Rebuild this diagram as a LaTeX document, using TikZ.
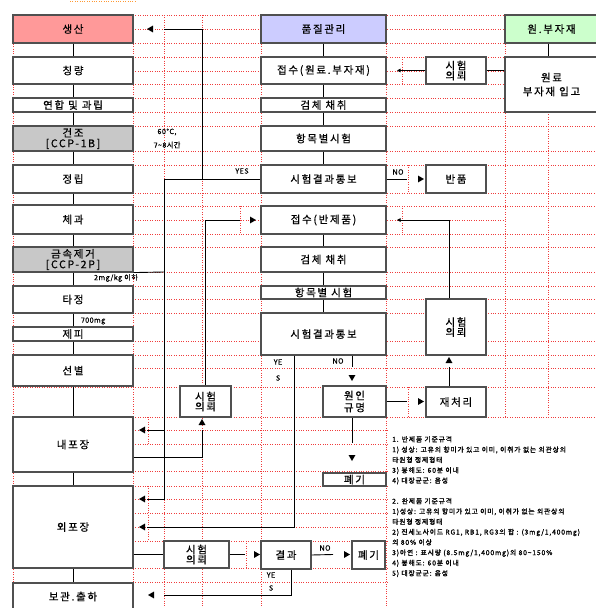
\documentclass[tikz,border=0pt]{standalone}
\usepackage{fontspec}
\setmainfont{Noto Sans CJK KR}[LetterSpace=16,FakeBold=0.5]
\newfontfamily\notefont{Noto Sans CJK KR}[LetterSpace=12,FakeBold=1.2]
\newfontfamily\smallfont{Noto Sans CJK KR}[LetterSpace=6,FakeBold=0.5]
\usetikzlibrary{shapes.geometric,arrows.meta}
\definecolor{prodred}{HTML}{FF9999}
\definecolor{qclav}{HTML}{CCCCFF}
\definecolor{rawgreen}{HTML}{CCFFCC}
\definecolor{ccpgray}{HTML}{C8C8C8}
\definecolor{edgegray}{HTML}{505050}
\definecolor{gridred}{HTML}{F03C3C}
\newcommand{\mybox}[7]{\node[box,#6,minimum width={(#4-#2)*1pt},minimum height={(#5-#3)*1pt}] (#1) at ({(#2+#4)/2},{(#3+#5)/2}) {#7};}
\begin{document}
\begin{tikzpicture}[x=1pt,y=-1pt,
 box/.style={draw=edgegray,line width=1.1pt,fill=white,inner sep=0pt,align=center,font=\fontsize{10.5}{12}\selectfont},
 conn/.style={draw=black,line width=0.9pt},
 tipL/.style={-{Triangle[length=3.5pt,width=3.5pt]}},
 arrtri/.style={regular polygon,regular polygon sides=3,fill=black,inner sep=0pt,minimum size=8pt},
 arrL/.style={arrtri,shape border rotate=90},
 arrR/.style={arrtri,shape border rotate=-90},
 arrU/.style={arrtri},
 arrD/.style={arrtri,shape border rotate=180},
 gridl/.style={draw=gridred,line width=0.6pt,dash pattern=on 1pt off 1.4pt},
 lab/.style={inner sep=0pt,font=\smallfont\fontsize{7.2}{8}\selectfont},
]
\useasboundingbox (0,0) rectangle (595,608);
\draw[draw=orange!80,line width=0.6pt,dash pattern=on 1pt off 1.4pt] (70,1) -- (137,1);

% ---------- spreadsheet grid ----------
\foreach \yy in {15,43,57,84,98,112,126,151,165,193,206,234,247,272,286,299,313,341,355,368,387,417,444,471,486,513,541,568,582}
  \draw[gridl] (13,\yy) -- (595,\yy);
\foreach \yy in {29,71,220,430,499,527}
  \draw[gridl] (133,\yy) -- (505,\yy);
\foreach \xx in {13,133,164,202,261,386}
  \draw[gridl] (\xx,15) -- (\xx,608);
\draw[gridl] (505,15) -- (505,417);
\draw[gridl] (548,112) -- (548,417);
\draw[gridl] (402,57) -- (402,84);
\draw[gridl] (402,206) -- (402,234);
\draw[gridl] (408,165) -- (408,193);
\draw[gridl] (408,387) -- (408,417);
\draw[gridl] (240,206) -- (240,234);
\draw[gridl] (148,417) -- (148,444);
\draw[gridl] (148,486) -- (148,541);
\draw[gridl] (246,541) -- (246,568);
\fill[white] (387.5,418.5) rectangle (600,612);

% ---------- production column ----------
\mybox{sangsan}{13}{15}{133}{43}{fill=prodred}{생산}
\mybox{chingryang}{13}{57}{133}{84}{}{칭량}
\mybox{yeonhap}{13}{98}{133}{112}{}{연합 및 과립}
\mybox{geonjo}{13}{126}{133}{151}{fill=ccpgray}{건조\\[-1.5pt][CCP-1B]}
\mybox{jeongrip}{13}{165}{133}{193}{}{정립}
\mybox{chegwa}{13}{205}{133}{234}{}{체과}
\mybox{geumsok}{13}{247}{133}{272}{fill=ccpgray}{금속제거\\[-1.5pt][CCP-2P]}
\mybox{tajeong}{13}{286}{133}{313}{}{타정}
\mybox{jepi}{13}{327}{133}{341}{}{제피}
\mybox{seonbyeol}{13}{355}{133}{386}{}{선별}
\mybox{naepojang}{13}{417}{133}{472}{}{내포장}
\mybox{oepojang}{13}{486}{133}{568}{}{외포장}
\mybox{bogwan}{13}{583}{133}{610}{}{보관.출하}

% ---------- quality column ----------
\mybox{pumjil}{261}{15}{386}{43}{fill=qclav}{품질관리}
\mybox{jeopsu1}{261}{57}{386}{84}{}{접수(원료.부자재)}
\mybox{geomche1}{261}{98}{386}{112}{}{검체 채취}
\mybox{hangmok1}{261}{126}{386}{151}{}{항목별시험}
\mybox{result1}{261}{165}{386}{193}{}{시험결과통보}
\mybox{jeopsu2}{261}{206}{386}{234}{}{접수(반제품)}
\mybox{geomche2}{261}{247}{386}{272}{}{검체 채취}
\mybox{hangmok2}{261}{286}{386}{299}{}{항목별 시험}
\mybox{result2}{261}{313}{386}{355}{}{시험결과통보}
\mybox{wonin}{323}{386}{386}{417}{}{원인\\규명}
\mybox{pegi1}{323}{473}{386}{486}{}{폐기}
\mybox{gyeolgwa}{261}{541}{311}{569}{}{결과}
\mybox{pegi2}{352}{541}{385}{569}{}{폐기}

% ---------- right side ----------
\mybox{siheom1}{426}{57}{486}{84}{}{시험\\[-2pt]의뢰}
\mybox{banpum}{426}{165}{486}{193}{}{반품}
\mybox{siheom2}{426}{299}{486}{355}{}{시험\\[-2pt]의뢰}
\mybox{jaecheori}{426}{387}{486}{417}{}{재처리}
\mybox{wonbu}{505}{15}{598}{43}{fill=rawgreen}{원.부자재}
\mybox{ipgo}{505}{57}{598}{112}{}{원료\\[2pt]부자재 입고}

% ---------- middle request boxes ----------
\mybox{siheom3}{180}{386}{231}{417}{}{시험\\[-2pt]의뢰}
\mybox{siheom4}{164}{541}{229}{568}{}{시험\\[-2pt]의뢰}

% ---------- straight flow connectors ----------
\draw[conn] (sangsan.south) -- (chingryang.north);
\draw[conn] (chingryang.south) -- (yeonhap.north);
\draw[conn] (yeonhap.south) -- (geonjo.north);
\draw[conn] (geonjo.south) -- (jeongrip.north);
\draw[conn] (jeongrip.south) -- (chegwa.north);
\draw[conn] (chegwa.south) -- (geumsok.north);
\draw[conn] (geumsok.south) -- (tajeong.north);
\draw[conn] (tajeong.south) -- (jepi.north);
\draw[conn] (jepi.south) -- (seonbyeol.north);
\draw[conn] (seonbyeol.south) -- (naepojang.north);
\draw[conn] (naepojang.south) -- (oepojang.north);
\draw[conn] (oepojang.south) -- (bogwan.north);

\draw[conn] (pumjil.south) -- (jeopsu1.north);
\draw[conn] (jeopsu1.south) -- (geomche1.north);
\draw[conn] (geomche1.south) -- (hangmok1.north);
\draw[conn] (hangmok1.south) -- (result1.north);
\draw[conn] (jeopsu2.south) -- (geomche2.north);
\draw[conn] (geomche2.south) -- (hangmok2.north);
\draw[conn] (hangmok2.south) -- (result2.north);

\coordinate (pw) at (548,0);
\draw[conn] (wonbu.south -| pw) -- (ipgo.north -| pw);
\draw[conn] (siheom1.east -| ipgo.west) -- (siheom1.east);
\coordinate (e9) at (397,70.5);
\draw[conn,tipL] (siheom1.west) -- (e9);

% ---------- YES network from first test result ----------
\coordinate (j1) at (202,179);
\coordinate (j2) at (164,179);
\coordinate (e1) at (164,29);
\coordinate (e3) at (147,499);
\coordinate (bj) at (164,430);
\coordinate (e4) at (147,430);
\draw[conn] (result1.west) -- (j2) |- (e3);
\draw[conn] (j1) |- (e1);
\draw[conn] (bj) -- (e4);
\node[arrL] (a1) at (151,29) {};
\node[arrL] (a2) at (143,430) {};
\node[arrL] (a3) at (143,499) {};
\node[lab] (yes1) at (242,171) {YES};

% metal removal line
\coordinate (j3) at (164,272);
\draw[conn] (geumsok.south east) -- (j3);

% request 3 network
\coordinate (e5) at (240,220);
\draw[conn] (siheom3.north) |- (e5);
\node[arrR] (a4) at (252,220) {};
\coordinate (k6) at (202,457);
\coordinate (e6) at (202,430);
\draw[conn] (naepojang.east |- k6) -- (k6) -- (e6);
\node[arrU] (a5) at (202,423) {};

% NO to return
\coordinate (r1) at (407,0);
\draw[conn] (result1.east) -- (result1.east -| r1);
\node[arrR] (a6) at (420,179) {};
\node[lab] (no1) at (398,172) {NO};

% request 2 -> receipt of semi-product
\coordinate (k2) at (449,220);
\coordinate (e8) at (397,220);
\draw[conn,tipL] (siheom2.north -| k2) -- (k2) -- (e8);
\coordinate (k1) at (449,367);
\draw[conn] (jaecheori.north -| k1) -- (k1);
\node[arrU] (a7) at (449,361) {};

% second test result
\coordinate (n1) at (352,367);
\draw[conn] (result2.south -| n1) -- (n1);
\node[arrD] (a8) at (352,377) {};
\node[lab] (no2) at (338,361) {NO};
\coordinate (n2) at (352,443);
\draw[conn] (wonin.south -| n2) -- (n2);
\node[arrD] (a9) at (352,457) {};
\draw[conn] (wonin.east) -- (wonin.east -| r1);
\node[arrR] (a10) at (420,401.5) {};
\coordinate (y1) at (294,527);
\coordinate (e7) at (147,527);
\draw[conn] (result2.south -| y1) -- (y1) -- (e7);
\node[arrL] (a11) at (143,527) {};
\node[lab] (yes2a) at (278,362) {YE};
\node[lab] (yes2b) at (278,378) {S};

% outer packaging test
\draw[conn] (siheom4.west -| oepojang.east) -- (siheom4.west);
\coordinate (e10) at (245,554.5);
\draw[conn] (siheom4.east) -- (e10);
\node[arrR] (a12) at (256,554.5) {};
\coordinate (e11) at (333,554.5);
\draw[conn] (gyeolgwa.east) -- (e11);
\node[arrR] (a13) at (346,554.5) {};
\node[lab] (no3) at (325,548) {NO};
\coordinate (y2) at (291,595);
\coordinate (e12) at (164,595);
\draw[conn] (gyeolgwa.south -| y2) -- (y2) -- (e12);
\node[arrL] (a14) at (152,595) {};
\node[lab] (yes3a) at (271,575) {YE};
\node[lab] (yes3b) at (271,588) {S};

% ---------- small labels ----------
\node[lab] (t60) at (167,132) {60°C,};
\node[lab] (t78) at (167,145) {7\textasciitilde8시간};
\node[lab] (t2mg) at (116,278) {2mg/kg 이하};
\node[lab] (t700) at (93,321) {700mg};

% ---------- notes ----------
\node[anchor=north west,align=left,inner sep=0pt,font=\notefont\fontsize{6.8}{10.3}\selectfont] (notes) at (392,436) {%
1. 반제품 기준규격\\
1) 성상: 고유의 향미가 있고 이미, 이취가 없는 외관상의\\
타원형 정제형태\\
3) 붕해도: 60분 이내\\
4) 대장균군: 음성\\[10.3pt]
2. 완제품 기준규격\\
1)성상: 고유의 향미가 있고 이미, 이취가 없는 외관상의\\
타원형 정제형태\\
2) 진세노사이드 RG1, RB1, RG3의 합 : (3mg/1,400mg)\\
의 80\% 이상\\
3)아연 : 표시량 (8.5mg/1,400mg)의 80\textasciitilde150\%\\
4) 붕해도: 60분 이내\\
5) 대장균군: 음성};
\end{tikzpicture}
\end{document}
